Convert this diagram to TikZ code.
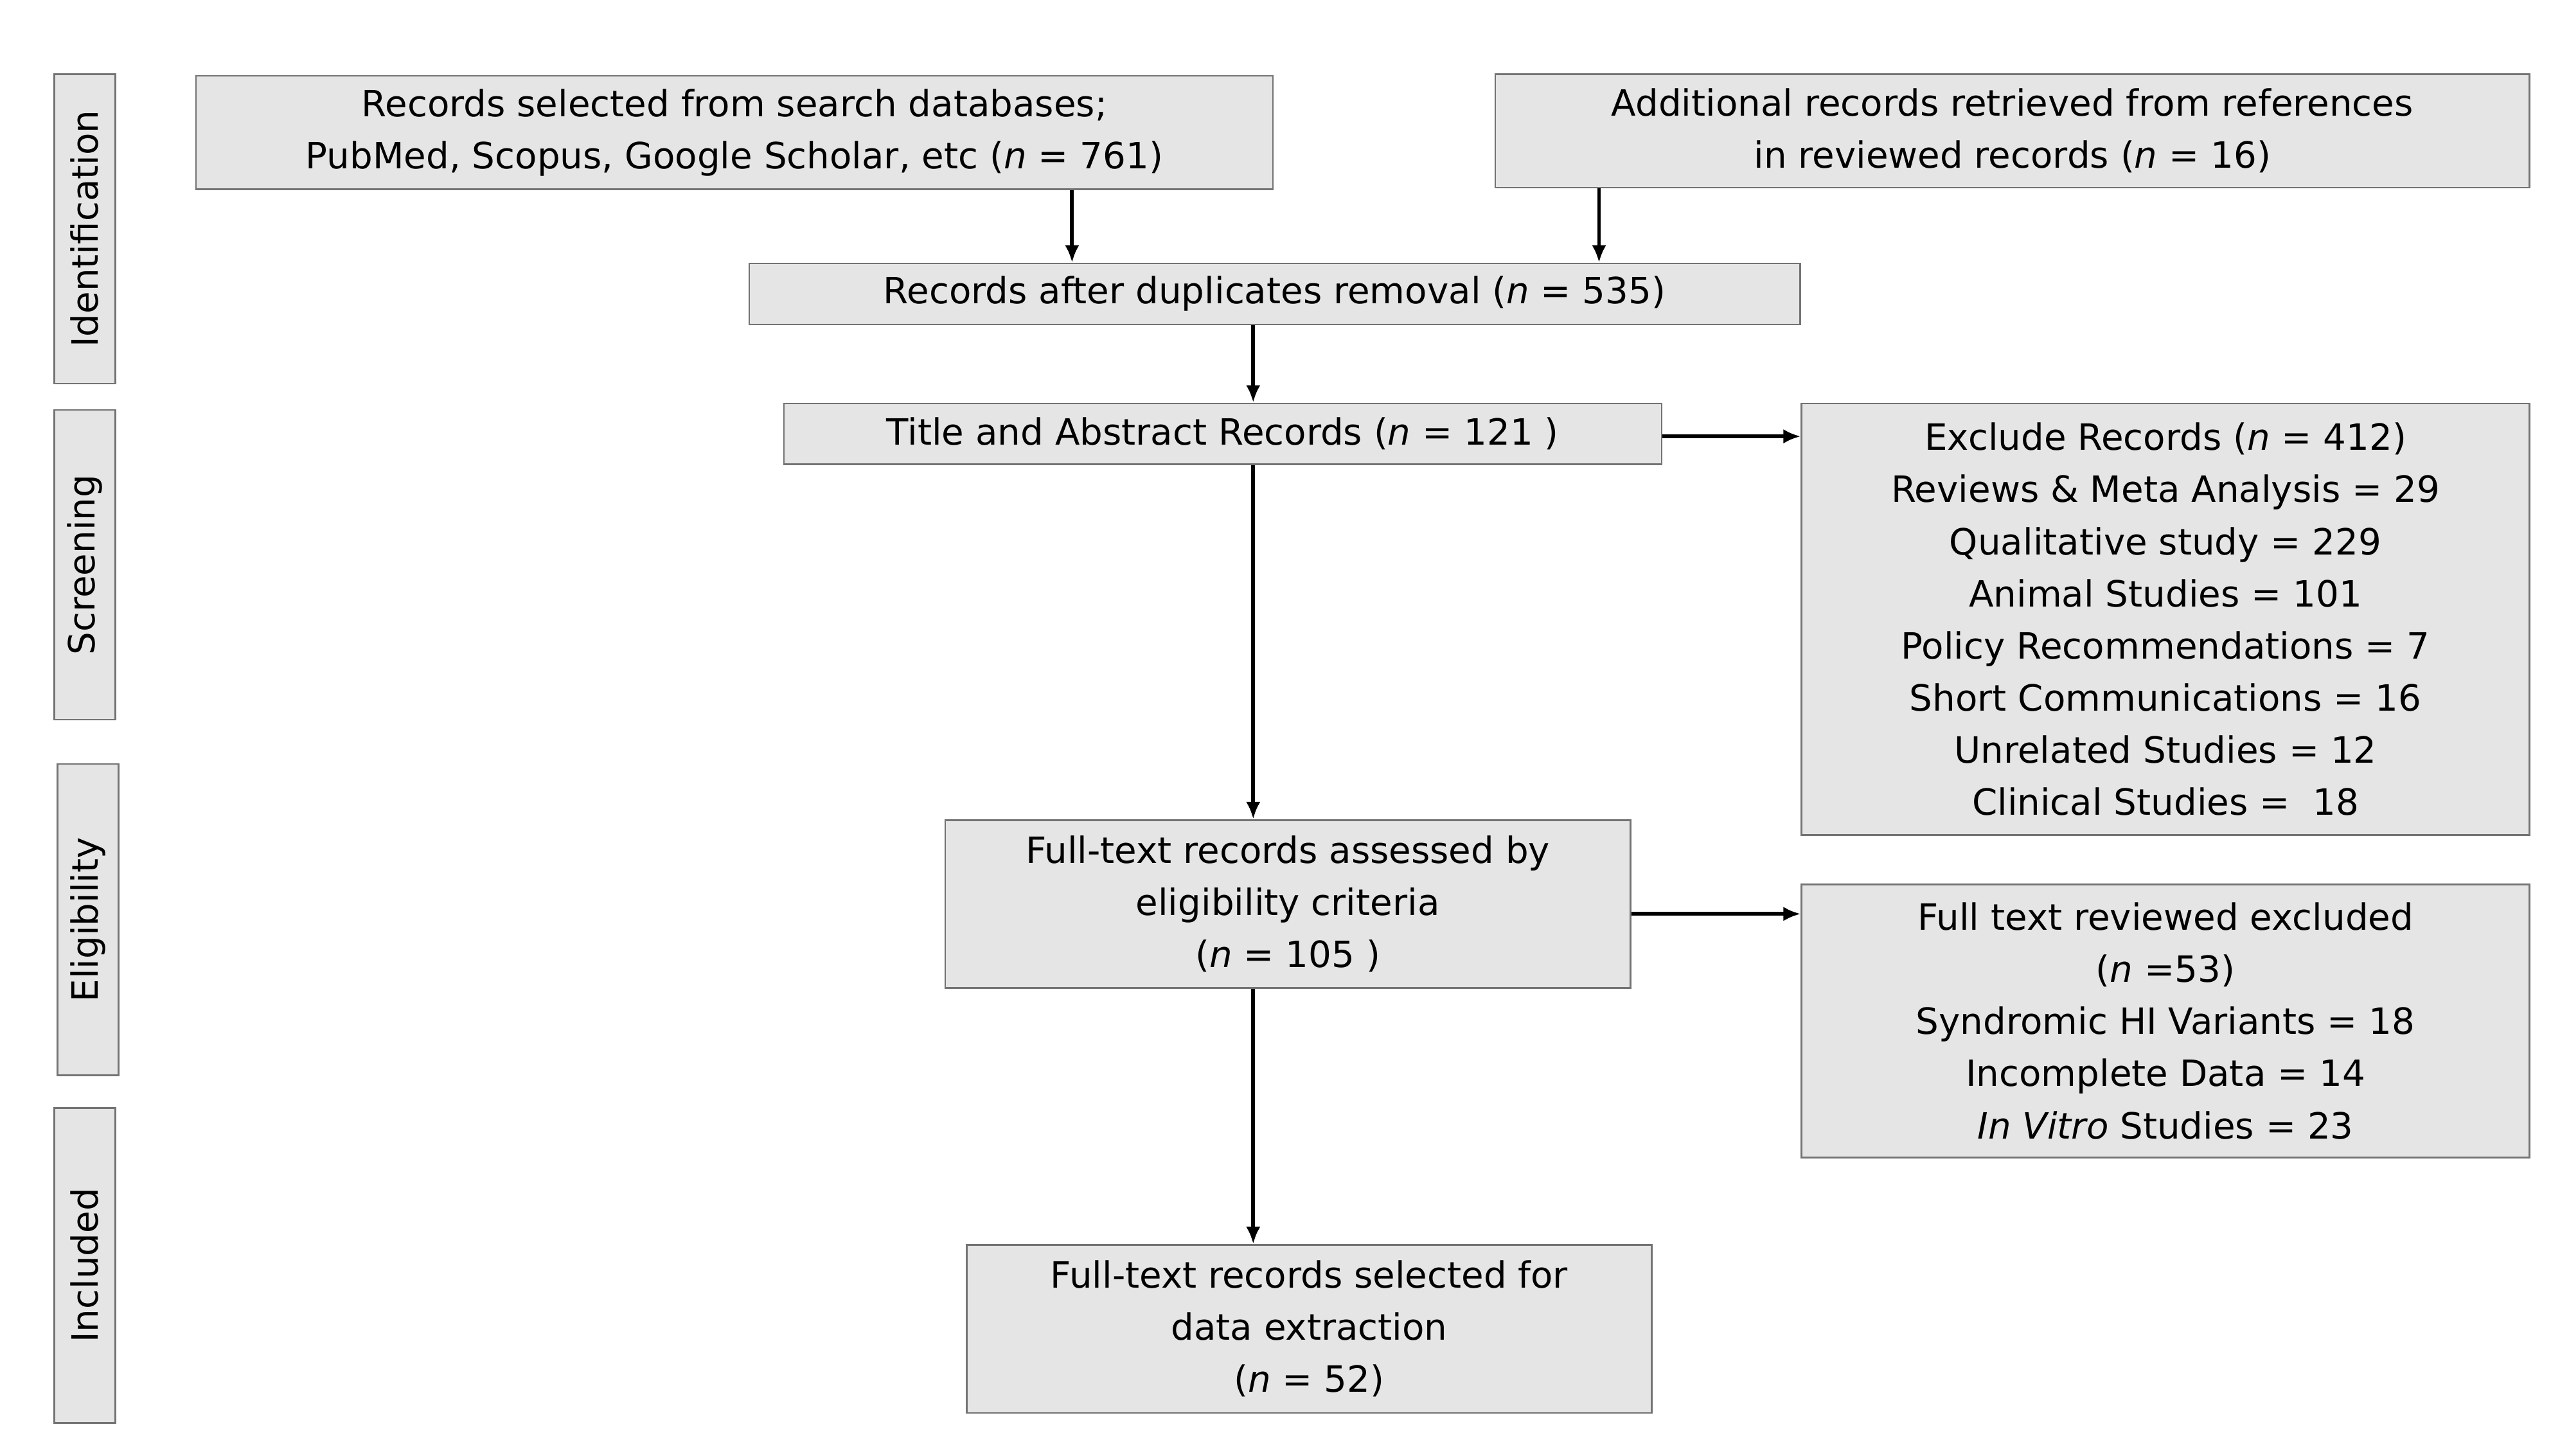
\documentclass[tikz,border=0pt]{standalone}
\usepackage{fontspec}
\setmainfont{DejaVu Sans}
\usetikzlibrary{arrows.meta}
\begin{document}
\begin{tikzpicture}[x=0.02cm,y=-0.02cm,
 box/.style={draw=black!55,fill=black!10,line width=0.6pt,inner sep=0pt,align=center,font=\fontsize{12.5}{18}\selectfont},
 lab/.style={box,rotate=90},
 arr/.style={-{Latex[length=6pt,width=5pt]},line width=1.3pt}]
\useasboundingbox (0,0) rectangle (1560,884);
\newcommand\bx[6]{\node[#1,minimum width={(#4-#2)*0.02cm},minimum height={(#5-#3)*0.02cm}] (#6) at ({(#2+#4)/2},{(#3+#5)/2})}
\node[lab,minimum width=188*0.02cm,minimum height=37*0.02cm] (l1) at (51.5,139) {Identification};
\node[lab,minimum width=188*0.02cm,minimum height=37*0.02cm] (l2) at (51.5,343) {Screening};
\node[lab,minimum width=189*0.02cm,minimum height=37*0.02cm] (l3) at (53.5,558.5) {Eligibility};
\node[lab,minimum width=191*0.02cm,minimum height=37*0.02cm] (l4) at (51.5,768.5) {Included};
\bx{box}{119}{46}{773}{115}{b1} {Records selected from search databases;\\PubMed, Scopus, Google Scholar, etc (\textit{n} = 761)};
\bx{box}{908}{45}{1536}{114}{b2} {Additional records retrieved from references\\in reviewed records (\textit{n} = 16)};
\bx{box}{455}{160}{1093}{197}{b3} {Records after duplicates removal (\textit{n} = 535)};
\bx{box}{476}{245}{1009}{282}{b4} {Title and Abstract Records (\textit{n} = 121 )};
\bx{box}{1094}{245}{1536}{507}{b5} {Exclude Records (\textit{n} = 412)\\Reviews \& Meta Analysis = 29\\Qualitative study = 229\\Animal Studies = 101\\Policy Recommendations = 7\\Short Communications = 16\\Unrelated Studies = 12\\Clinical Studies = \ 18};
\bx{box}{574}{498}{990}{600}{b6} {Full-text records assessed by\\eligibility criteria\\(\textit{n} = 105 )};
\bx{box}{1094}{537}{1536}{703}{b7} {Full text reviewed excluded\\(\textit{n} =53)\\Syndromic HI Variants = 18\\Incomplete Data = 14\\\textit{In Vitro} Studies = 23};
\bx{box}{587}{756}{1003}{858}{b8} {Full-text records selected for\\data extraction\\(\textit{n} = 52)};
\coordinate (xa) at (651,0);
\coordinate (xb) at (971,0);
\coordinate (xc) at (761,0);
\coordinate (ya) at (0,265);
\coordinate (yb) at (0,555);
\draw[arr] (b1.south -| xa) -- (b3.north -| xa);
\draw[arr] (b2.south -| xb) -- (b3.north -| xb);
\draw[arr] (b3.south -| xc) -- (b4.north -| xc);
\draw[arr] (b4.south -| xc) -- (b6.north -| xc);
\draw[arr] (b6.south -| xc) -- (b8.north -| xc);
\draw[arr] (b4.east |- ya) -- (b5.west |- ya);
\draw[arr] (b6.east |- yb) -- (b7.west |- yb);
\end{tikzpicture}
\end{document}
